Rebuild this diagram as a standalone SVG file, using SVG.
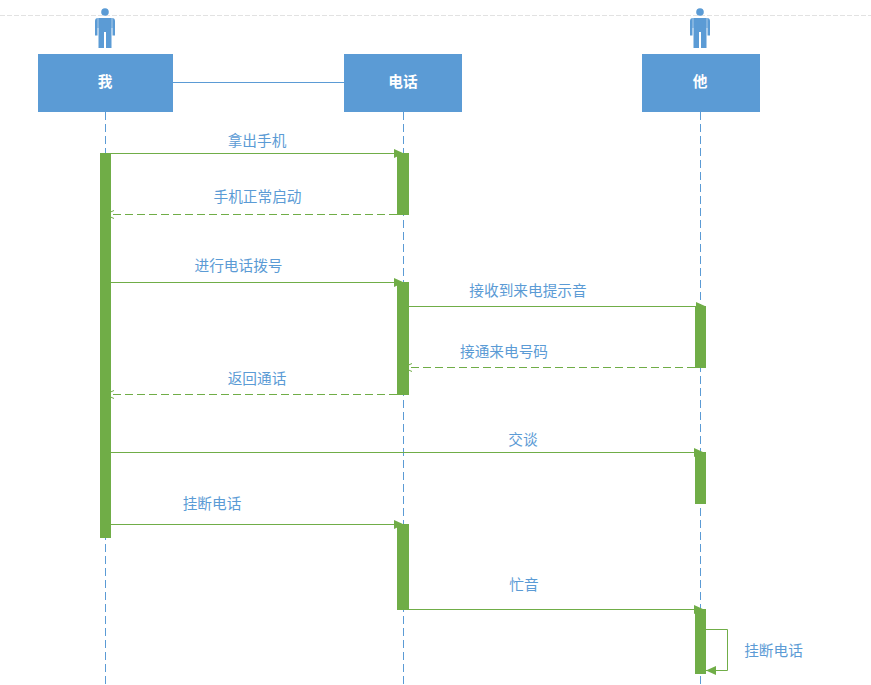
<svg xmlns="http://www.w3.org/2000/svg" width="871" height="685" viewBox="0 0 871 685">
<style>
.lbl{font-family:"Noto Sans CJK SC","Liberation Sans",sans-serif;font-size:14.670px;fill:#5b9bd5;text-anchor:middle}
.hd{font-family:"Noto Sans CJK SC","Liberation Sans",sans-serif;font-size:14.670px;font-weight:bold;fill:#fff;text-anchor:middle}
.box{fill:#5b9bd5}
.act{fill:#70ad47}
.life{stroke:#5b9bd5;stroke-width:1;stroke-dasharray:8 4;fill:none}
.msg{stroke:#70ad47;stroke-width:1;fill:none;marker-end:url(#solid)}
.ret{stroke:#70ad47;stroke-width:1;stroke-dasharray:8 4;fill:none;marker-end:url(#open)}
.person{fill:#5b9bd5}
</style>
<defs>
<marker id="solid" markerUnits="userSpaceOnUse" markerWidth="12" markerHeight="12" refX="10" refY="6" orient="auto"><path d="M0,1.500 L10,6 L0,10.500 Z" fill="#70ad47"/></marker>
<marker id="open" markerUnits="userSpaceOnUse" markerWidth="12" markerHeight="12" refX="10" refY="6" orient="auto"><path d="M1,2 L10,6 L1,10" fill="none" stroke="#70ad47" stroke-width="1"/></marker>
<g id="figure"><circle cx="0" cy="12" r="3.800"/><path d="M-7,18 H7 Q10,18 10,21 V35.500 H7.500 V28 H6.500 V48 H1 V32 H-1 V48 H-6.500 V28 H-7.500 V35.500 H-10 V21 Q-10,18 -7,18 Z"/><path d="M-6.500,28 H-7.500 V18 H-6.500 Z M6.500,28 H7.500 V18 H6.500 Z" fill="#a9cbe9"/></g>
</defs>
<rect width="871" height="685" fill="#ffffff"/>
<line x1="0" y1="15.500" x2="871" y2="15.500" stroke="#e2e2e2" stroke-width="1" stroke-dasharray="5 2"/>
<g id="lifelines">
<line class="life" x1="105.500" y1="112" x2="105.500" y2="685"/>
<line class="life" x1="403.500" y1="112" x2="403.500" y2="685"/>
<line class="life" x1="700.500" y1="112" x2="700.500" y2="685"/>
</g>
<g id="node-me"><use href="#figure" x="105" y="0" class="person"/><rect class="box" x="38" y="54" width="135" height="58"/><text class="hd" x="105" y="87">我</text></g>
<g id="node-phone"><rect class="box" x="344" y="54" width="118" height="58"/><text class="hd" x="403" y="87">电话</text></g>
<g id="node-him"><use href="#figure" x="700" y="0" class="person"/><rect class="box" x="642" y="54" width="118" height="58"/><text class="hd" x="700" y="87">他</text></g>
<g id="activations">
<rect class="act" x="100" y="153" width="11" height="385"/>
<rect class="act" x="397" y="153" width="12" height="62"/>
<rect class="act" x="397" y="282" width="12" height="113"/>
<rect class="act" x="397" y="524" width="12" height="86"/>
<rect class="act" x="695" y="306" width="11" height="62"/>
<rect class="act" x="695" y="452" width="11" height="52"/>
<rect class="act" x="695" y="609" width="11" height="65"/>
</g>
<g id="connectors">
<line x1="173" y1="82.500" x2="344" y2="82.500" stroke="#5b9bd5" stroke-width="1"/>
<line class="msg" x1="105" y1="153.500" x2="404" y2="153.500"/>
<line class="ret" x1="397" y1="214.500" x2="105" y2="214.500"/>
<line class="msg" x1="105" y1="282.500" x2="404" y2="282.500"/>
<line class="msg" x1="403" y1="306.500" x2="706" y2="306.500"/>
<line class="ret" x1="695" y1="367.500" x2="403" y2="367.500"/>
<line class="ret" x1="397" y1="394.500" x2="105" y2="394.500"/>
<line class="msg" x1="105" y1="452.500" x2="704" y2="452.500"/>
<line class="msg" x1="105" y1="524.500" x2="404" y2="524.500"/>
<line class="msg" x1="403" y1="609.500" x2="704" y2="609.500"/>
<path class="msg" d="M706,629.500 H727.500 V670.500 H706"/>
</g>
<g id="labels">
<text class="lbl" x="257" y="146">拿出手机</text>
<text class="lbl" x="257.500" y="202">手机正常启动</text>
<text class="lbl" x="238.500" y="271">进行电话拨号</text>
<text class="lbl" x="528" y="296">接收到来电提示音</text>
<text class="lbl" x="504" y="357">接通来电号码</text>
<text class="lbl" x="257" y="384">返回通话</text>
<text class="lbl" x="523" y="445">交谈</text>
<text class="lbl" x="212" y="509">挂断电话</text>
<text class="lbl" x="524" y="590">忙音</text>
<text class="lbl" x="773.500" y="656">挂断电话</text>
</g>
</svg>
